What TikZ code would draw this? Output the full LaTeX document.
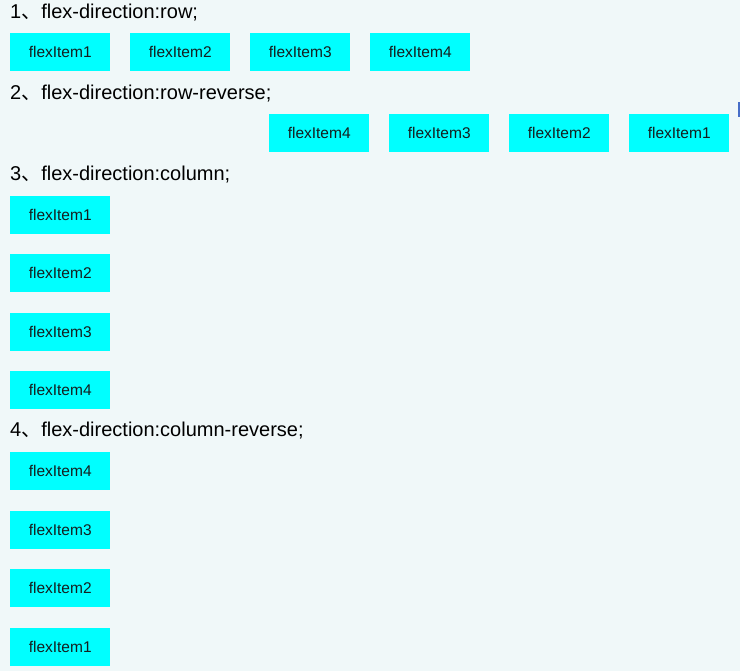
\documentclass[tikz,border=0pt]{standalone}
\usepackage{fontspec}
\setmainfont{Liberation Sans}
\newfontfamily\cjk{Noto Sans CJK SC}
\definecolor{bgc}{RGB}{240,248,249}
\definecolor{itemc}{RGB}{0,255,255}
\definecolor{itemtext}{RGB}{20,30,30}
\definecolor{barc}{RGB}{70,110,200}
\begin{document}
\begin{tikzpicture}[x=1pt,y=-1pt,
  itembox/.style={fill=itemc, draw=none, minimum width=100pt, minimum height=38pt, inner sep=0pt,
    anchor=north west, font=\fontsize{15.5}{18}\selectfont, text=itemtext,
    text height=11pt, text depth=-1pt},
  heading/.style={anchor=base west, inner sep=0pt, font=\fontsize{20}{23}\selectfont, text=black}]
\fill[bgc] (0,0) rectangle (740,671);
\useasboundingbox (0,0) rectangle (740,671);
\fill[barc] (738,102) rectangle (740,117);
% 1
\node[heading] (h1) at (10,19) {1{\cjk 、}flex-direction:row;};
\node[itembox] (a1) at (10,33) {flexItem1};
\node[itembox] (a2) at (130,33) {flexItem2};
\node[itembox] (a3) at (250,33) {flexItem3};
\node[itembox] (a4) at (370,33) {flexItem4};
% 2
\node[heading] (h2) at (10,100) {2{\cjk 、}flex-direction:row-reverse;};
\node[itembox] (b4) at (269,114) {flexItem4};
\node[itembox] (b3) at (389,114) {flexItem3};
\node[itembox] (b2) at (509,114) {flexItem2};
\node[itembox] (b1) at (629,114) {flexItem1};
% 3
\node[heading] (h3) at (10,181) {3{\cjk 、}flex-direction:column;};
\node[itembox] (c1) at (10,196) {flexItem1};
\node[itembox] (c2) at (10,254) {flexItem2};
\node[itembox] (c3) at (10,313) {flexItem3};
\node[itembox] (c4) at (10,371) {flexItem4};
% 4
\node[heading] (h4) at (10,437) {4{\cjk 、}flex-direction:column-reverse;};
\node[itembox] (d4) at (10,452) {flexItem4};
\node[itembox] (d3) at (10,511) {flexItem3};
\node[itembox] (d2) at (10,569) {flexItem2};
\node[itembox] (d1) at (10,628) {flexItem1};
\end{tikzpicture}
\end{document}
